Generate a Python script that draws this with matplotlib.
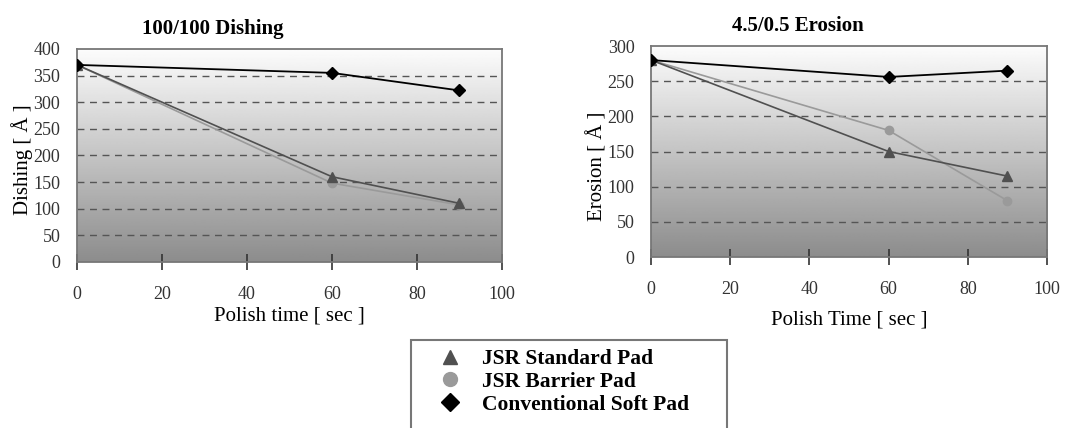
import numpy as np
import matplotlib.pyplot as plt
from matplotlib.lines import Line2D
from matplotlib.patches import Rectangle

plt.rcParams['font.family'] = ['Liberation Serif', 'DejaVu Serif']

# data
time = [0, 60, 90]
dish_standard = [370, 160, 110]
dish_barrier = [370, 148, 107]
dish_soft = [370, 355, 322]
eros_standard = [280, 150, 115]
eros_barrier = [280, 180, 80]
eros_soft = [280, 256, 265]
series_names = ["JSR Standard Pad", "JSR Barrier Pad", "Conventional Soft Pad"]


def style_axes(ax, ymax, ystep, title, title_x, xlabel, ylabel, xpad, ylab_y):
    # grey gradient background
    grad = np.linspace(0.55, 0.99, 256).reshape(-1, 1)
    ax.imshow(grad, cmap='gray', vmin=0, vmax=1, aspect='auto', origin='lower',
              extent=[0, 1, 0, 1], transform=ax.transAxes, zorder=0)
    ax.set_xlim(0, 100)
    ax.set_ylim(0, ymax)
    ax.set_xticks(range(0, 101, 20))
    ax.set_yticks(range(0, ymax + 1, ystep))
    for y in range(ystep, ymax, ystep):
        ax.axhline(y, color='#555555', ls=(0, (5, 4)), lw=1.0, zorder=1)
    ax.tick_params(axis='x', direction='inout', length=12, width=1.2, pad=11,
                   labelsize=13, colors='#333333')
    ax.tick_params(axis='y', length=0, pad=12, labelsize=13, colors='#333333')
    for s in ax.spines.values():
        s.set_color('#777777')
        s.set_linewidth(1.3)
    ax.set_title(title, fontweight='bold', fontsize=15, x=title_x, pad=11)
    ax.set_xlabel(xlabel, fontsize=15, labelpad=xpad)
    ax.set_ylabel(ylabel, fontsize=15, labelpad=0, y=ylab_y)


def draw(ax, std, bar, soft):
    ax.plot(time, bar, color='#9a9a9a', lw=1.2, marker='o', ms=6, zorder=3)
    ax.plot(time, std, color='#505050', lw=1.2, marker='^', ms=7, zorder=4)
    ax.plot(time, soft, color='#000000', lw=1.3, marker='D', ms=6, zorder=5)


fig = plt.figure(figsize=(10.77, 4.28), dpi=100)
ax1 = fig.add_axes([0.0715, 0.388, 0.3946, 0.4977])
ax2 = fig.add_axes([0.6045, 0.3995, 0.3677, 0.493])

style_axes(ax1, 400, 50, "100/100 Dishing", 0.32, "Polish time [ sec ]", "Dishing [ Å ]", 3, 0.48)
draw(ax1, dish_standard, dish_barrier, dish_soft)
style_axes(ax2, 300, 50, "4.5/0.5 Erosion", 0.37, "Polish Time [ sec ]", "Erosion [ Å ]", 9, 0.43)
draw(ax2, eros_standard, eros_barrier, eros_soft)

# legend frame runs past the bottom of the picture
fig.patches.append(Rectangle((411 / 1077, -0.05), (727 - 411) / 1077, 1.05 - 340 / 428,
                             transform=fig.transFigure, fill=False,
                             edgecolor='#777777', lw=1.5))
handles = [
    Line2D([], [], ls='none', marker='^', color='#505050', ms=10),
    Line2D([], [], ls='none', marker='o', color='#9a9a9a', ms=10),
    Line2D([], [], ls='none', marker='D', color='#000000', ms=9),
]
fig.legend(handles, series_names, loc='upper left',
           bbox_to_anchor=(428 / 1077, 1 - 345 / 428),
           prop={'weight': 'bold', 'size': 15.5}, frameon=False,
           labelspacing=0.12, handletextpad=0.7, borderpad=0.2,
           borderaxespad=0, handlelength=1.6)

fig.savefig("out.png", dpi=100)
